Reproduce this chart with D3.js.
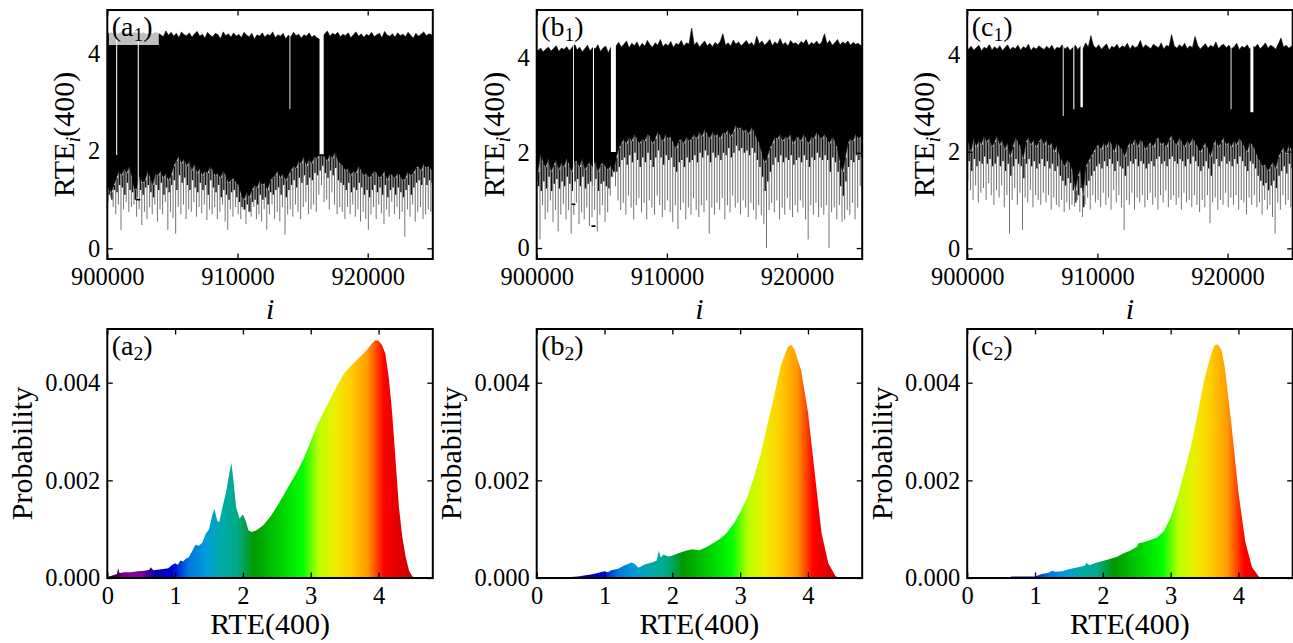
<!DOCTYPE html>
<html><head><meta charset="utf-8">
<script src="https://cdn.jsdelivr.net/npm/d3@7"></script>
<style>
body{margin:0;background:#fff;}
svg{display:block;font-family:"Liberation Serif","Times New Roman",serif;}
</style></head><body>
<svg id="chart" width="1293" height="643"></svg>
<script>
// ---------------- DATA ----------------
// Time series, binned 200 steps per bin from i = 900000 to 925000:
// upper envelope, lower edge of the dense band, intermediate excursion, deepest excursion
const a1Top = [
4.42,4.43,4.41,4.43,4.42,4.44,4.41,4.42,4.43,4.41,
4.44,4.42,4.41,4.43,4.42,4.40,4.43,4.41,4.44,4.42,
4.39,4.35,4.47,4.38,4.44,4.36,4.42,4.33,4.45,4.39,
4.37,4.43,4.34,4.41,4.46,4.36,4.40,4.32,4.44,4.38,
4.35,4.42,4.39,4.31,4.45,4.37,4.41,4.34,4.43,4.36,
4.40,4.33,4.44,4.38,4.35,4.42,4.30,4.39,4.36,4.43,
4.34,4.40,4.37,4.45,4.33,4.39,4.36,4.42,4.31,4.38,
4.35,4.44,4.37,4.40,4.32,4.39,4.36,4.43,4.34,4.38,
4.33,4.30,4.35,4.41,4.47,4.36,4.42,4.39,4.44,4.35,
4.40,4.37,4.43,4.33,4.39,4.45,4.36,4.41,4.34,4.40,
4.37,4.44,4.35,4.39,4.42,4.33,4.46,4.38,4.36,4.41,
4.34,4.43,4.37,4.40,4.35,4.44,4.38,4.32,4.42,4.36,
4.40,4.45,4.37,4.41,4.39];
const a1Core = [
1.25,1.15,1.3,1.45,1.6,1.5,1.65,1.55,1.7,1.45,
1.2,1.25,1.5,1.35,1.4,1.6,1.45,1.3,1.55,1.5,
1.6,1.45,1.55,1.4,1.5,1.7,1.8,1.9,1.75,1.85,
1.7,1.8,1.6,1.75,1.55,1.65,1.5,1.6,1.55,1.7,
1.6,1.5,1.55,1.45,1.6,1.5,1.35,1.4,1.45,1.35,
1.3,1.1,1.0,1.15,1.05,1.2,1.3,1.25,1.4,1.3,
1.35,1.2,1.4,1.45,1.5,1.6,1.45,1.55,1.4,1.5,
1.6,1.7,1.65,1.8,1.75,1.9,1.7,1.85,1.75,1.9,
1.85,1.95,1.9,1.9,1.8,1.95,1.85,2.0,1.8,1.75,
1.7,1.6,1.65,1.5,1.6,1.55,1.7,1.6,1.5,1.55,
1.45,1.5,1.6,1.55,1.45,1.5,1.6,1.4,1.55,1.5,
1.45,1.55,1.5,1.4,1.45,1.6,1.5,1.55,1.65,1.7,
1.6,1.75,1.65,1.7,1.6];
const a1Mid = [
1.1,1.0,1.2,1.15,1.3,1.25,1.1,1.35,1.2,1.15,
1.0,1.05,1.2,1.1,1.25,1.3,1.15,1.05,1.3,1.2,
1.35,1.1,1.25,1.15,1.3,1.4,1.2,1.5,1.35,1.45,
1.3,1.2,1.4,1.25,1.15,1.35,1.2,1.3,1.1,1.4,
1.25,1.15,1.3,1.05,1.2,1.1,1.0,1.15,1.2,1.05,
0.95,0.85,0.8,0.9,0.75,0.95,1.0,0.9,1.1,1.0,
1.05,0.9,1.15,1.1,1.2,1.25,1.1,1.3,1.05,1.2,
1.3,1.4,1.25,1.45,1.35,1.5,1.3,1.45,1.4,1.55,
1.5,1.6,1.7,1.55,1.45,1.6,1.5,1.65,1.4,1.35,
1.3,1.2,1.35,1.15,1.25,1.2,1.35,1.25,1.1,1.2,
1.05,1.2,1.3,1.15,1.25,1.1,1.3,1.05,1.2,1.25,
1.1,1.25,1.15,1.05,1.2,1.3,1.1,1.25,1.35,1.4,
1.3,1.45,1.3,1.4,1.35];
const a1Low = [
0.95,1.05,0.85,0.7,0.9,0.38,0.8,0.95,0.75,0.85,
0.9,0.65,0.8,0.48,0.75,0.6,0.85,0.7,0.9,0.55,
0.8,0.7,0.95,0.38,0.75,0.62,0.3,0.85,0.7,0.9,
0.6,0.8,0.75,0.95,0.65,0.85,0.72,0.9,0.58,0.8,
0.7,0.85,0.6,0.75,0.9,0.55,0.38,0.8,0.65,0.85,
0.7,0.6,0.8,0.5,0.75,0.65,0.85,0.6,0.7,0.55,
0.8,0.38,0.7,0.9,0.6,0.75,0.55,0.85,0.28,0.7,
0.8,0.65,0.9,0.75,0.6,0.85,0.95,0.7,0.8,0.9,
0.75,1.1,1.3,0.95,1.0,0.8,1.15,0.9,0.7,0.85,
0.75,0.6,0.85,0.7,0.9,0.65,0.8,0.55,0.75,0.6,
0.38,0.7,0.85,0.6,0.9,0.72,0.5,0.8,0.65,0.95,
0.7,0.85,0.6,0.75,0.24,0.8,0.65,0.9,0.55,0.75,
0.85,0.6,0.7,0.8,0.75];
const a1GapStart = [900680, 902340, 913990, 916300];
const a1GapEnd   = [900760, 902420, 914040, 916620];
const a1GapLevel = [1.9, 1.0, 2.85, 1.92];

const b1Top = [
4.15,4.2,4.12,4.18,4.22,4.14,4.19,4.25,4.13,4.2,
4.17,4.23,4.15,4.2,4.3,4.16,4.22,4.12,4.19,4.26,
4.14,4.21,4.18,4.27,4.13,4.2,4.24,4.1,4.22,4.18,
4.25,4.32,4.22,4.28,4.35,4.2,4.3,4.25,4.33,4.21,
4.3,4.24,4.36,4.27,4.22,4.31,4.26,4.38,4.23,4.29,
4.25,4.34,4.21,4.3,4.27,4.36,4.24,4.31,4.28,4.62,
4.26,4.33,4.22,4.29,4.35,4.25,4.3,4.23,4.32,4.27,
4.34,4.5,4.26,4.31,4.24,4.37,4.28,4.33,4.25,4.3,
4.36,4.27,4.32,4.24,4.45,4.29,4.35,4.26,4.31,4.38,
4.25,4.33,4.28,4.4,4.27,4.32,4.24,4.36,4.29,4.31,
4.26,4.34,4.3,4.38,4.25,4.32,4.28,4.35,4.27,4.33,
4.5,4.29,4.36,4.26,4.31,4.38,4.27,4.33,4.29,4.35,
4.26,4.32,4.28,4.3,4.25];
const b1Core = [
1.6,2.0,1.8,1.7,1.9,1.6,1.75,1.85,1.65,1.8,
1.7,1.9,1.75,1.6,1.8,1.85,1.7,1.9,1.65,1.75,
1.8,1.7,1.85,1.6,1.75,1.8,1.7,1.65,1.75,1.6,
1.9,2.1,2.2,2.3,2.2,2.35,2.25,2.4,2.3,2.2,
2.3,2.25,2.4,2.35,2.2,2.3,2.45,2.35,2.25,2.4,
2.3,2.35,2.2,2.1,2.25,2.3,2.2,2.35,2.25,2.3,
2.4,2.3,2.45,2.35,2.5,2.4,2.3,2.45,2.35,2.4,
2.3,2.45,2.4,2.5,2.35,2.45,2.6,2.5,2.55,2.45,
2.5,2.4,2.55,2.45,2.3,2.2,2.0,1.8,1.9,2.1,
2.2,2.35,2.3,2.4,2.25,2.35,2.3,2.4,2.2,2.3,
2.35,2.25,2.4,2.3,2.2,2.35,2.3,2.45,2.35,2.3,
2.4,2.3,2.2,2.35,2.25,2.1,1.8,1.6,1.9,2.2,
2.3,2.25,2.4,2.3,2.35];
const b1Mid = [
1.3,1.2,1.4,1.25,1.5,1.2,1.35,1.45,1.25,1.4,
1.3,1.5,1.35,1.2,1.4,1.45,1.3,1.5,1.25,1.35,
1.4,1.3,1.45,1.2,1.35,1.4,1.3,1.25,1.5,1.7,
1.6,1.7,1.85,1.9,1.75,1.95,1.8,2.0,1.85,1.7,
1.9,1.8,2.0,1.85,1.7,1.9,2.05,1.9,1.75,1.95,
1.85,1.9,1.7,1.6,1.8,1.85,1.7,1.9,1.8,1.85,
1.95,1.8,2.0,1.9,2.05,1.95,1.8,2.0,1.9,1.95,
1.85,2.0,1.95,2.1,1.9,2.0,2.15,2.05,2.1,2.0,
2.05,1.95,2.1,2.0,1.85,1.7,1.5,1.2,1.4,1.6,
1.75,1.9,1.8,1.95,1.8,1.9,1.85,1.95,1.75,1.85,
1.9,1.8,1.95,1.85,1.7,1.9,1.85,2.0,1.9,1.85,
1.95,1.85,1.6,1.9,1.8,1.6,1.3,1.1,1.4,1.7,
1.85,1.8,1.95,1.85,1.9];
const b1Low = [
1.4,0.18,0.9,0.6,0.75,1.0,0.55,0.8,0.35,0.7,
0.92,0.6,0.8,0.3,0.7,0.95,0.5,0.75,0.6,0.85,
0.46,0.65,0.8,0.35,0.7,0.9,0.55,0.75,1.1,1.5,
1.3,1.0,0.8,0.95,0.7,1.1,0.85,0.6,0.9,1.05,
0.75,0.95,0.6,1.0,0.85,0.7,1.1,0.9,0.65,0.8,
1.0,0.75,0.55,0.9,0.4,0.8,0.95,0.6,0.85,0.7,
1.05,0.8,0.65,0.9,0.75,1.0,0.3,0.85,0.7,0.95,
0.8,1.05,0.6,0.9,0.75,1.1,0.85,0.95,0.7,1.0,
0.85,0.65,0.95,0.8,0.6,0.9,0.7,0.5,0.0,0.8,
0.95,0.75,1.0,0.6,0.85,0.7,1.05,0.8,0.65,0.9,
0.75,1.0,0.85,0.6,0.18,0.9,0.7,0.95,0.65,0.85,
0.7,0.9,0.0,0.75,0.85,0.6,0.9,0.55,0.6,0.8,
0.7,0.95,0.6,0.85,1.3];
const b1GapStart = [902790, 904320, 905700];
const b1GapEnd   = [902850, 904400, 906080];
const b1GapLevel = [0.92, 0.46, 2.0];

const c1Top = [
4.12,4.18,4.1,4.15,4.2,4.08,4.16,4.13,4.22,4.1,
4.17,4.12,4.19,4.09,4.15,4.21,4.11,4.16,4.13,4.2,
4.1,4.17,4.14,4.22,4.09,4.16,4.12,4.19,4.15,4.11,
4.18,4.13,4.2,4.1,4.16,4.14,4.21,4.12,4.17,4.09,
4.15,4.2,4.11,4.18,4.13,4.25,4.16,4.4,4.19,4.14,
4.21,4.12,4.17,4.23,4.1,4.18,4.15,4.22,4.13,4.19,
4.16,4.24,4.12,4.2,4.15,4.18,4.3,4.14,4.21,4.17,
4.13,4.22,4.18,4.15,4.25,4.12,4.2,4.17,4.42,4.19,
4.14,4.21,4.16,4.24,4.13,4.19,4.15,4.38,4.2,4.12,
4.18,4.23,4.14,4.2,4.16,4.27,4.13,4.19,4.22,4.15,
4.2,4.13,4.17,4.24,4.11,4.18,4.15,4.21,4.12,4.19,
4.16,4.22,4.13,4.18,4.25,4.14,4.2,4.17,4.12,4.23,
4.35,4.16,4.2,4.14,4.18];
const c1Core = [
2.2,2.0,2.3,2.1,2.25,2.15,2.35,2.2,2.3,2.1,
2.2,2.35,2.15,2.25,2.05,2.2,1.9,2.1,2.3,2.2,
2.1,1.85,2.2,2.3,2.15,2.25,2.1,2.2,2.3,2.15,
2.25,2.1,2.2,2.0,2.15,1.9,1.8,1.7,1.85,1.75,
1.6,1.2,1.5,1.65,1.1,1.7,1.8,1.9,2.0,2.1,
2.15,2.05,2.2,2.1,2.25,2.15,2.0,2.2,2.1,2.05,
1.9,2.1,2.2,2.15,2.3,2.1,2.25,2.2,2.05,2.15,
2.2,2.1,2.25,2.3,2.15,2.2,2.1,2.25,2.35,2.2,
2.15,2.3,2.2,2.1,2.25,2.15,2.3,2.2,2.1,2.0,
2.1,2.2,2.05,1.9,2.15,2.25,2.1,2.2,2.3,2.15,
2.2,2.1,2.25,2.15,2.3,2.2,2.1,2.0,2.2,2.15,
2.05,1.9,1.8,1.7,1.75,1.6,1.7,1.8,1.65,1.9,
2.0,2.1,1.95,2.15,2.05];
const c1Mid = [
1.8,1.6,1.85,1.7,1.8,1.75,1.9,1.75,1.85,1.7,
1.75,1.9,1.7,1.8,1.6,1.75,1.5,1.7,1.85,1.75,
1.7,1.45,1.75,1.85,1.7,1.8,1.65,1.75,1.85,1.7,
1.8,1.65,1.75,1.6,1.7,1.5,1.4,1.3,1.45,1.35,
1.2,0.95,1.1,1.25,0.85,1.3,1.4,1.5,1.6,1.7,
1.75,1.65,1.8,1.7,1.85,1.75,1.6,1.8,1.7,1.65,
1.5,1.7,1.8,1.75,1.85,1.7,1.8,1.75,1.65,1.75,
1.8,1.7,1.85,1.9,1.75,1.8,1.7,1.85,1.9,1.8,
1.75,1.85,1.8,1.7,1.85,1.75,1.9,1.8,1.7,1.6,
1.7,1.8,1.65,1.5,1.75,1.85,1.7,1.8,1.9,1.75,
1.8,1.7,1.85,1.75,1.9,1.8,1.7,1.6,1.8,1.75,
1.65,1.5,1.4,1.3,1.35,1.2,1.3,1.4,1.25,1.5,
1.6,1.7,1.55,1.75,1.65];
const c1Low = [
1.4,1.2,1.0,1.3,0.95,1.15,1.25,1.0,1.35,1.1,
0.9,1.2,1.05,1.3,0.85,1.1,0.3,1.0,1.25,0.9,
1.15,0.38,1.05,0.95,1.2,0.85,1.1,1.0,0.9,1.15,
0.95,1.1,0.8,1.05,0.9,0.85,1.0,0.75,0.95,0.8,
0.9,0.86,1.0,0.75,0.65,0.9,1.05,0.8,1.1,0.95,
1.0,0.85,1.15,0.9,1.05,0.8,1.2,0.95,1.1,0.85,
0.38,1.0,0.9,1.15,0.8,1.05,0.95,1.1,0.85,1.0,
1.15,0.9,1.05,0.8,1.1,0.95,1.2,0.85,1.0,1.1,
0.9,1.05,0.8,1.15,0.95,1.0,0.85,1.1,0.9,0.75,
1.0,0.85,1.1,0.52,0.95,1.05,0.8,1.0,0.9,1.15,
0.85,1.05,0.9,1.1,0.8,1.0,0.95,0.7,1.05,0.9,
1.1,0.85,0.95,0.7,1.0,0.8,0.9,0.65,0.3,0.95,
0.8,1.1,0.9,1.0,0.85];
const c1GapStart = [907340, 908150, 908700, 920230, 921750];
const c1GapEnd   = [907400, 908230, 908880, 920290, 921980];
const c1GapLevel = [2.72, 2.86, 2.9, 2.86, 2.8];

// Probability distributions of RTE(400)
const a2X = [0.00,0.05,0.10,0.14,0.16,0.18,0.25,0.35,0.45,0.55,0.62,0.64,0.68,0.80,0.90,0.95,1.00,1.04,1.08,1.12,1.16,1.20,1.25,1.30,1.35,1.40,1.45,1.50,1.55,1.58,1.62,1.65,1.70,1.75,1.80,1.83,1.86,1.90,1.95,2.00,2.04,2.08,2.13,2.20,2.30,2.40,2.50,2.60,2.70,2.80,2.90,3.00,3.10,3.20,3.30,3.40,3.50,3.60,3.70,3.80,3.90,3.95,4.00,4.05,4.10,4.15,4.20,4.25,4.30,4.35,4.40,4.45,4.50,4.55];
const a2P = [0.00002,0.00004,0.00006,0.00008,0.00020,0.00010,0.00012,0.00012,0.00014,0.00015,0.00017,0.00022,0.00016,0.00018,0.00020,0.00026,0.00030,0.00027,0.00036,0.00034,0.00040,0.00042,0.00055,0.00068,0.00066,0.00072,0.00090,0.00100,0.00130,0.00142,0.00118,0.00114,0.00146,0.00175,0.00215,0.00236,0.00200,0.00145,0.00122,0.00130,0.00118,0.00098,0.00094,0.00098,0.00108,0.00125,0.00146,0.00170,0.00194,0.00218,0.00246,0.00280,0.00315,0.00342,0.00370,0.00397,0.00421,0.00435,0.00449,0.00463,0.00480,0.00487,0.00486,0.00477,0.00460,0.00411,0.00339,0.00243,0.00146,0.00084,0.00043,0.00015,0.00003,0.00000];
const b2X = [0.45,0.50,0.60,0.70,0.80,0.90,1.00,1.05,1.10,1.20,1.30,1.40,1.45,1.50,1.60,1.70,1.77,1.80,1.83,1.87,1.90,1.95,2.00,2.10,2.20,2.30,2.40,2.50,2.60,2.70,2.80,2.90,3.00,3.10,3.20,3.30,3.40,3.50,3.60,3.70,3.75,3.80,3.90,4.00,4.10,4.20,4.30,4.40,4.45];
const b2P = [0,0.00002,0.00003,0.00005,0.00007,0.00010,0.00014,0.00012,0.00016,0.00019,0.00026,0.00032,0.00028,0.00021,0.00028,0.00032,0.00036,0.00056,0.00042,0.00048,0.00046,0.00044,0.00046,0.00051,0.00056,0.00059,0.00057,0.00063,0.00071,0.00080,0.00092,0.00110,0.00134,0.00164,0.00205,0.00252,0.00313,0.00372,0.00435,0.00472,0.00478,0.00468,0.00425,0.00340,0.00215,0.00092,0.00030,0.00005,0];
const c2X = [0.62,0.65,0.80,1.00,1.10,1.20,1.25,1.30,1.40,1.50,1.60,1.70,1.74,1.76,1.80,1.90,2.00,2.10,2.20,2.30,2.40,2.50,2.53,2.60,2.70,2.80,2.90,3.00,3.10,3.20,3.30,3.40,3.50,3.60,3.65,3.70,3.75,3.80,3.90,4.00,4.10,4.20,4.30,4.35];
const c2P = [0,0.00003,0.00003,0.00003,0.00008,0.00011,0.00015,0.00013,0.00014,0.00018,0.00021,0.00024,0.00026,0.00031,0.00026,0.00031,0.00035,0.00039,0.00043,0.00050,0.00056,0.00064,0.00071,0.00073,0.00078,0.00083,0.00096,0.00124,0.00165,0.00216,0.00270,0.00338,0.00409,0.00460,0.00477,0.00478,0.00467,0.00430,0.00310,0.00175,0.00075,0.00022,0.00003,0];

// Tick values
const seriesXTicks = [900000, 910000, 920000];
const seriesYTicks = [0, 2, 4];
const histXTicks = [0, 1, 2, 3, 4];
const histYTicks = [0, 0.002, 0.004];
const panelLetters = ["a", "b", "c"];

// colour map (nipy_spectral) stops
const spectralStops = [[0.00,"#000000"],[0.05,"#770088"],[0.10,"#880099"],[0.15,"#0000aa"],[0.20,"#0000dd"],[0.25,"#0077dd"],[0.30,"#0099dd"],[0.35,"#00aaaa"],[0.40,"#00aa88"],[0.45,"#009900"],[0.50,"#00bb00"],[0.55,"#00dd00"],[0.60,"#00ff00"],[0.65,"#bbff00"],[0.70,"#eeee00"],[0.75,"#ffcc00"],[0.80,"#ff9900"],[0.85,"#ff0000"],[0.90,"#dd0000"],[0.95,"#cc0000"],[1.00,"#cccccc"]];

// ---------------- LAYOUT ----------------
const svg = d3.select("#chart");
const colLeft = [107.3, 536.7, 967.2];
const colW = 325.5;
const rowTop = [10, 329];
const rowH = 249;
const FS_TICK = 24.5, FS_LAB = 30, FS_PANEL = 28;
const binIndex = d3.range(900000, 925000, 200);

const seriesPanels = [
  {top:a1Top, core:a1Core, mid:a1Mid, low:a1Low, gs:a1GapStart, ge:a1GapEnd, gl:a1GapLevel, yDom:[-0.22, 4.9]},
  {top:b1Top, core:b1Core, mid:b1Mid, low:b1Low, gs:b1GapStart, ge:b1GapEnd, gl:b1GapLevel, yDom:[-0.23, 5.0]},
  {top:c1Top, core:c1Core, mid:c1Mid, low:c1Low, gs:c1GapStart, ge:c1GapEnd, gl:c1GapLevel, yDom:[-0.22, 4.93]}
];
const histPanels = [{x:a2X, p:a2P}, {x:b2X, p:b2P}, {x:c2X, p:c2P}];

const defs = svg.append("defs");

function styleAxis(g, showText) {
  g.attr("font-family", "'Liberation Serif','Times New Roman',serif").attr("font-size", FS_TICK);
  g.select(".domain").remove();
  g.selectAll(".tick line").attr("stroke", "#000").attr("stroke-width", 1.3);
  g.selectAll(".tick text").attr("fill", "#000");
  if (!showText) g.selectAll(".tick text").remove();
}

function axesAndFrame(g, x, y, xt, yt, xf, yf, left, top, w, h) {
  const tk = 5.5;
  styleAxis(g.append("g").attr("transform", `translate(0,${top+h})`)
    .call(d3.axisBottom(x).tickValues(xt).tickFormat(xf).tickSizeInner(-tk).tickSizeOuter(0).tickPadding(8.6)), true);
  styleAxis(g.append("g").attr("transform", `translate(0,${top})`)
    .call(d3.axisTop(x).tickValues(xt).tickSizeInner(-tk).tickSizeOuter(0)), false);
  styleAxis(g.append("g").attr("transform", `translate(${left},0)`)
    .call(d3.axisLeft(y).tickValues(yt).tickFormat(yf).tickSizeInner(-tk).tickSizeOuter(0).tickPadding(7)), true);
  styleAxis(g.append("g").attr("transform", `translate(${left+w},0)`)
    .call(d3.axisRight(y).tickValues(yt).tickSizeInner(-tk).tickSizeOuter(0)), false);
  g.append("rect").attr("x", left).attr("y", top).attr("width", w).attr("height", h)
    .attr("fill", "none").attr("stroke", "#000").attr("stroke-width", 2);
}

function panelLabel(g, letter, sub, left, top) {
  g.append("rect").attr("x", left + 1.5).attr("y", top + 1.5).attr("width", 50).attr("height", 33.5)
    .attr("fill", "#fff").attr("fill-opacity", 0.75);
  const t = g.append("text").attr("x", left + 4.5).attr("y", top + 25.5).attr("font-size", FS_PANEL).attr("fill", "#000");
  t.append("tspan").text("(" + letter);
  t.append("tspan").attr("font-size", FS_PANEL * 0.7).attr("dy", 5).text(sub);
  t.append("tspan").attr("dy", -5).text(")");
}

// ---------------- TOP ROW: time series ----------------
seriesPanels.forEach((p, c) => {
  const left = colLeft[c], top = rowTop[0], w = colW, h = rowH;
  const g = svg.append("g");
  const x = d3.scaleLinear().domain([900000, 925000]).range([left, left + w]);
  const y = d3.scaleLinear().domain(p.yDom).range([top + h, top]);
  const cid = "clipS" + c;
  defs.append("clipPath").attr("id", cid).append("rect").attr("x", left).attr("y", top).attr("width", w).attr("height", h);
  const plot = g.append("g").attr("clip-path", `url(#${cid})`);
  const bins = binIndex.map((i, k) => ({i, top: p.top[k], core: p.core[k], mid: p.mid[k], low: p.low[k]}));
  // deepest excursions (thin, grey by antialiasing in the original)
  plot.selectAll("line.deep").data(bins).join("line")
    .attr("x1", d => x(d.i + 50)).attr("x2", d => x(d.i + 50))
    .attr("y1", d => y(d.low)).attr("y2", d => y(d.core))
    .attr("stroke", "#737373").attr("stroke-width", 1.0);
  // intermediate excursions
  plot.selectAll("line.mid").data(bins).join("line")
    .attr("x1", d => x(d.i + 150)).attr("x2", d => x(d.i + 150))
    .attr("y1", d => y(d.mid)).attr("y2", d => y(d.core))
    .attr("stroke", "#111").attr("stroke-width", 1.4);
  // dense band
  const first = bins[0], last = bins[bins.length - 1];
  const band = [{i: 900000, top: first.top, core: first.core}]
    .concat(bins.map(d => ({i: d.i + 100, top: d.top, core: d.core})))
    .concat([{i: 925000, top: last.top, core: last.core}]);
  plot.append("path").datum(band)
    .attr("d", d3.area().x(d => x(d.i)).y0(d => y(d.core)).y1(d => y(d.top)))
    .attr("fill", "#000").attr("stroke", "#000").attr("stroke-width", 0.6);
  // plateaus (signal stuck at a low value)
  const gaps = p.gs.map((s, j) => ({s, e: p.ge[j], v: p.gl[j]}));
  plot.selectAll("rect.gap").data(gaps).join("rect")
    .attr("x", d => x(d.s)).attr("width", d => Math.max(0.9, x(d.e) - x(d.s)))
    .attr("y", top).attr("height", d => y(d.v) - top).attr("fill", "#fff");
  plot.selectAll("line.plat").data(gaps).join("line")
    .attr("x1", d => x(d.s) - 1.5).attr("x2", d => x(d.e) + 1.5)
    .attr("y1", d => y(d.v)).attr("y2", d => y(d.v))
    .attr("stroke", "#000").attr("stroke-width", 1.6);

  panelLabel(g, panelLetters[c], "1", left, top);
  axesAndFrame(g, x, y, seriesXTicks, seriesYTicks, d3.format("d"), d3.format("d"), left, top, w, h);

  g.append("text").attr("x", left + w / 2).attr("y", top + h + 60).attr("text-anchor", "middle")
    .attr("font-size", FS_LAB).attr("font-style", "italic").text("i");
  const yl = g.append("text").attr("transform", `translate(${left - 33},${top + h / 2}) rotate(-90)`)
    .attr("text-anchor", "middle").attr("font-size", FS_LAB);
  yl.append("tspan").text("RTE");
  yl.append("tspan").attr("font-style", "italic").attr("font-size", FS_LAB * 0.7).attr("dy", 6).text("i");
  yl.append("tspan").attr("dy", -6).text("(400)");
});

// ---------------- BOTTOM ROW: distributions ----------------
histPanels.forEach((p, c) => {
  const left = colLeft[c], top = rowTop[1], w = colW, h = rowH;
  const g = svg.append("g");
  const x = d3.scaleLinear().domain([0, 4.8]).range([left, left + w]);
  const y = d3.scaleLinear().domain([0, 0.0051]).range([top + h, top]);
  const gid = "grad" + c;
  const grad = defs.append("linearGradient").attr("id", gid).attr("gradientUnits", "userSpaceOnUse")
    .attr("x1", x(0)).attr("x2", x(4.8)).attr("y1", 0).attr("y2", 0);
  grad.selectAll("stop").data(spectralStops).join("stop")
    .attr("offset", d => d[0]).attr("stop-color", d => d[1]);
  const pts = p.x.map((v, k) => ({x: v, p: p.p[k]}));
  g.append("path").datum(pts)
    .attr("d", d3.area().x(d => x(d.x)).y0(y(0)).y1(d => y(d.p)))
    .attr("fill", `url(#${gid})`);

  panelLabel(g, panelLetters[c], "2", left, top);
  axesAndFrame(g, x, y, histXTicks, histYTicks, d3.format("d"), d3.format(".3f"), left, top, w, h);

  g.append("text").attr("x", left + w / 2).attr("y", top + h + 56).attr("text-anchor", "middle")
    .attr("font-size", FS_LAB).text("RTE(400)");
  g.append("text").attr("transform", `translate(${left - 75.3},${top + h / 2}) rotate(-90)`)
    .attr("text-anchor", "middle").attr("font-size", FS_LAB).text("Probability");
});
</script>
</body></html>
